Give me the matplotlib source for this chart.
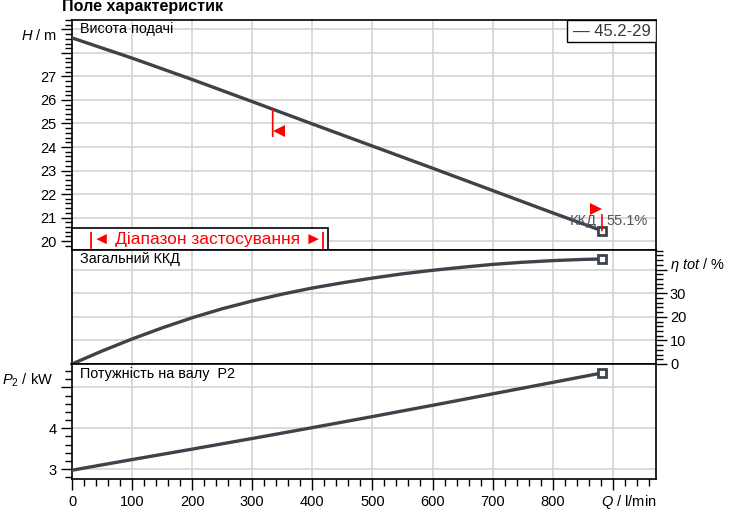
import numpy as np
import matplotlib
matplotlib.use('Agg')
import matplotlib.pyplot as plt
from matplotlib.patches import Rectangle
from matplotlib.ticker import FixedLocator, MultipleLocator, FuncFormatter
from matplotlib.transforms import ScaledTranslation, blended_transform_factory

plt.rcParams['font.family'] = ['Liberation Sans', 'DejaVu Sans']
plt.rcParams['mathtext.fontset'] = 'custom'
plt.rcParams['mathtext.rm'] = 'Liberation Sans'
plt.rcParams['mathtext.it'] = 'Liberation Sans:italic'

# flow Q, l/min
q = [0, 100, 200, 300, 400, 500, 600, 700, 800, 882]
# head H, m
head = [28.64, 27.78, 26.87, 25.93, 24.98, 24.04, 23.10, 22.15, 21.20, 20.44]
# shaft power P2, kW
power = [2.975, 3.235, 3.49, 3.75, 4.015, 4.285, 4.56, 4.84, 5.12, 5.35]
# total efficiency, %
q_eff = [0, 50, 100, 150, 200, 250, 300, 350, 400, 450, 500, 550, 600, 650,
         700, 750, 800, 850, 882]
eff = [0, 5.5, 10.6, 15.3, 19.6, 23.4, 26.7, 29.6, 32.2, 34.4, 36.4, 38.2,
       39.7, 41.0, 42.2, 43.1, 43.8, 44.3, 44.5]

pump_name = '45.2-29'
range_q = [32, 418]        # range of application
flag_q = [334, 882]        # red flags on the head curve
eff_text = '55.1%'

curve_col = '#3d434a'
grid_col = '#d4d4d4'
red = '#ff0000'

fig = plt.figure(figsize=(7.32, 5.16), dpi=100)
ax_h = fig.add_axes([0.0984, 0.5155, 0.7978, 0.4457])
ax_e = fig.add_axes([0.0984, 0.2946, 0.7978, 0.2209])
ax_p = fig.add_axes([0.0984, 0.0717, 0.7978, 0.2229])

for ax in (ax_h, ax_e, ax_p):
    ax.set_xlim(0, 972)
    for x in range(100, 1000, 100):
        ax.axvline(x, color=grid_col, lw=1.2, zorder=0)
    for s in ax.spines.values():
        s.set_linewidth(1.2)
    ax.tick_params(which='major', length=8, width=1, labelsize=10.5, pad=3)
    ax.tick_params(which='minor', length=5, width=1)
    ax.tick_params(axis='x', which='both', bottom=False, labelbottom=False)

# --- head panel
ax_h.set_ylim(19.62, 29.4)
for y in range(20, 30):
    ax_h.axhline(y, color=grid_col, lw=1.2, zorder=0)
ax_h.yaxis.set_major_locator(FixedLocator(range(20, 30)))
ax_h.yaxis.set_major_formatter(FuncFormatter(lambda v, p: '%d' % v if v <= 27 else ''))
ax_h.yaxis.set_minor_locator(MultipleLocator(0.2))
ax_h.plot(q, head, color=curve_col, lw=2.4, zorder=3,
          marker='s', markevery=[-1], ms=6, mfc='white', mec=curve_col, mew=2)

pt = fig.dpi_scale_trans
tr = ax_h.transData
h_flag = np.interp(flag_q, q, head)


def off(dx, dy):
    # shift from a data point by dx, dy points
    return tr + ScaledTranslation(dx / 72, dy / 72, pt)


# left flag: line goes down, triangle points left
ax_h.annotate('', xy=(flag_q[0], h_flag[0]), xytext=(0, -19.5),
              textcoords='offset points',
              arrowprops=dict(arrowstyle='-', color=red, lw=1.2,
                              shrinkA=0, shrinkB=0), zorder=4)
ax_h.plot([flag_q[0]], [h_flag[0]], marker='<', ms=8, color=red, mew=0,
          transform=off(4.2, -15.8), zorder=4)
# right flag: line goes up, triangle points right
ax_h.annotate('', xy=(flag_q[1], h_flag[1]), xytext=(0, 11.5),
              textcoords='offset points',
              arrowprops=dict(arrowstyle='-', color=red, lw=1.2,
                              shrinkA=0, shrinkB=0), zorder=4)
ax_h.plot([flag_q[1]], [h_flag[1]], marker='>', ms=8, color=red, mew=0,
          transform=off(-4.2, 15.3), zorder=4)
ax_h.text(flag_q[1], h_flag[1], 'ККД', transform=off(-3.5, 7.2), ha='right',
          va='center', fontsize=10.5, color='#4d5560', zorder=5)
ax_h.text(flag_q[1], h_flag[1], eff_text, transform=off(3.5, 7.2), ha='left',
          va='center', fontsize=10.5, color='#4d5560', zorder=5)

ax_h.text(0.0137, 0.961, 'Висота подачі', transform=ax_h.transAxes,
          fontsize=10.4, va='center', ha='left')

# legend box
ax_h.add_patch(Rectangle((0.8476, 0.904), 0.1524, 0.096, transform=ax_h.transAxes,
                         facecolor='white', edgecolor='black', lw=1, zorder=5))
ax_h.text(0.9238, 0.952, '— ' + pump_name, transform=ax_h.transAxes, ha='center',
          va='center', fontsize=12, color='#333a40', zorder=6)

# range of application box
ax_h.add_patch(Rectangle((0, 0), 0.438, 0.0957, transform=ax_h.transAxes,
                         facecolor='white', edgecolor='black', lw=1.2, zorder=5,
                         clip_on=False))
bt = blended_transform_factory(ax_h.transData, ax_h.transAxes)
for rq in range_q:
    ax_h.plot([rq, rq], [0.009, 0.074], color=red, lw=1.3, transform=bt, zorder=6)
ax_h.text(np.mean(range_q), 0.0435, '◄ Діапазон застосування ►', transform=bt,
          ha='center', va='center', fontsize=12.5, color=red, zorder=6)

# --- efficiency panel
ax_e.set_ylim(0, 48.3)
for y in (10, 20, 30, 40):
    ax_e.axhline(y, color=grid_col, lw=1.2, zorder=0)
ax_e.yaxis.tick_right()
ax_e.yaxis.set_major_locator(FixedLocator([0, 10, 20, 30, 40]))
ax_e.yaxis.set_major_formatter(FuncFormatter(lambda v, p: '%d' % v if v <= 30 else ''))
ax_e.yaxis.set_minor_locator(MultipleLocator(2))
ax_e.tick_params(axis='y', which='major', pad=2)
ax_e.plot(q_eff, eff, color=curve_col, lw=2.4, zorder=3, clip_on=False,
          marker='s', markevery=[-1], ms=6, mfc='white', mec=curve_col, mew=2)
ax_e.text(0.0137, 0.921, 'Загальний ККД', transform=ax_e.transAxes,
          fontsize=10.4, va='center', ha='left')

# --- power panel
ax_p.set_ylim(2.76, 5.57)
for y in (3, 4, 5):
    ax_p.axhline(y, color=grid_col, lw=1.2, zorder=0)
ax_p.yaxis.set_major_locator(FixedLocator([3, 4, 5]))
ax_p.yaxis.set_major_formatter(FuncFormatter(lambda v, p: '%d' % v if v < 5 else ''))
ax_p.yaxis.set_minor_locator(MultipleLocator(0.2))
ax_p.tick_params(axis='x', which='both', bottom=True, labelbottom=True)
ax_p.tick_params(axis='x', which='major', pad=3.5)
ax_p.xaxis.set_major_locator(FixedLocator(range(0, 1000, 100)))
ax_p.xaxis.set_major_formatter(FuncFormatter(lambda v, p: '%d' % v if v < 900 else ''))
ax_p.xaxis.set_minor_locator(MultipleLocator(20))
ax_p.plot(q, power, color=curve_col, lw=2.4, zorder=3,
          marker='s', markevery=[-1], ms=6, mfc='white', mec=curve_col, mew=2)
ax_p.text(0.0137, 0.913, 'Потужність на валу  P2', transform=ax_p.transAxes,
          fontsize=10.4, va='center', ha='left')

# axis titles
fig.text(57 / 732, 1 - 36 / 516, r'$H$ / m', ha='right', va='center', fontsize=10.5)
fig.text(2 / 732, 1 - 380 / 516, r'$P_2$ / kW', ha='left', va='center', fontsize=10.5)
fig.text(670 / 732, 1 - 265 / 516, r'$\eta\ tot$ / %', ha='left', va='center',
         fontsize=10.5)
fig.text(657 / 732, 1 - 502 / 516, r'$Q$ / l/min', ha='right', va='center',
         fontsize=10.5)
fig.text(62 / 732, 1 - 7 / 516, 'Поле характеристик', ha='left', va='center',
         fontsize=11.6, fontweight='bold')

fig.savefig('out.png', dpi=100)
